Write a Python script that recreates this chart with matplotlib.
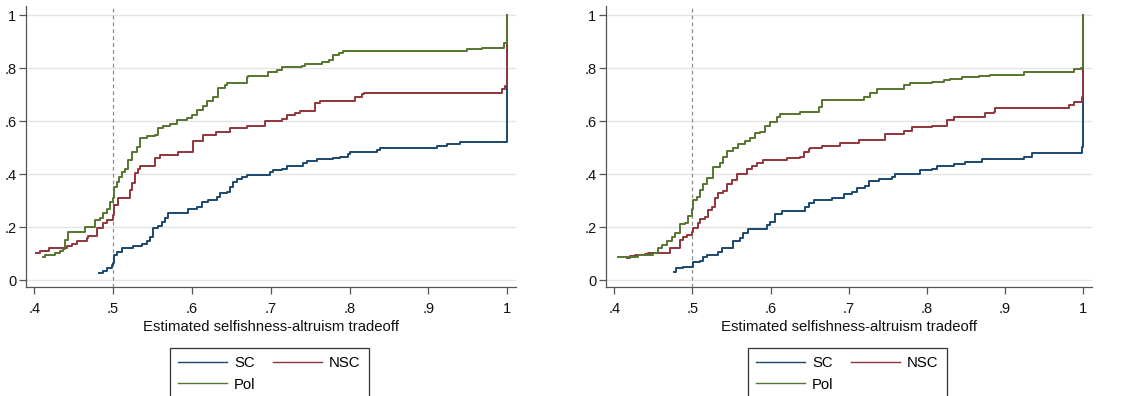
import numpy as np
import matplotlib
matplotlib.use("Agg")
import matplotlib.pyplot as plt

plt.rcParams['font.family'] = ['Liberation Sans', 'DejaVu Sans']

# series names and stata s2color colours
names = ["SC", "NSC", "Pol"]
colors = ["#1a476f", "#90353b", "#55752f"]

# left panel: step points (x, cumulative share after the step)
left_sc_x = [.4825, .4876, .4927, .4983, .5003, .5011, .5045, .5109, .5248, .5363, .5426, .5468,
             .5511, .5574, .5617, .5659, .5701, .5955, .6061, .6124, .6209, .6315, .6357, .6442,
             .6484, .6526, .6569, .6632, .6696, .6992, .7034, .714, .7204, .7415, .7457, .7584,
             .7796, .7881, .7986, .8008, .8346, .8389, .9108, .9235, .9404, 1.0]
left_sc_y = [.028, .035, .044, .057, .063, .094, .107, .120, .130, .138, .148, .164,
             .195, .204, .220, .233, .254, .267, .277, .296, .302, .315, .327, .333,
             .352, .371, .380, .390, .396, .409, .415, .420, .431, .440, .449, .455,
             .459, .465, .475, .482, .490, .499, .507, .512, .522, 1.0]

left_nsc_x = [.4017, .4072, .419, .441, .4474, .4537, .4664, .4686, .4791, .4876, .4918, .5003,
              .5011, .5066, .5215, .5236, .5278, .532, .5342, .5532, .5595, .5828, .6019, .6146,
              .6306, .6484, .6696, .6929, .714, .7204, .7309, .7373, .7563, .7627, .8071, .8156,
              .8177, .993, .997, 1.0]
left_nsc_y = [.101, .111, .121, .128, .138, .148, .157, .167, .195, .214, .226, .245,
              .283, .311, .340, .365, .403, .421, .430, .459, .472, .484, .526, .547,
              .560, .572, .581, .601, .608, .623, .629, .638, .667, .677, .692, .701,
              .704, .720, .732, 1.0]

left_pol_x = [.4106, .4135, .4262, .4326, .4368, .4389, .4432, .4643, .477, .4834, .4876, .4918,
              .4961, .4995, .5011, .5045, .5079, .5109, .5151, .5193, .5236, .5299, .5342, .5426,
              .5532, .5574, .5638, .5722, .5807, .5934, .5997, .6061, .6146, .6188, .6273, .6336,
              .6421, .6442, .6696, .6717, .6971, .7077, .714, .7394, .7436, .7648, .7733, .7796,
              .786, .7923, .9489, .9679, .9954, 1.0]
left_pol_y = [.088, .094, .103, .111, .119, .151, .180, .201, .226, .233, .252, .270,
              .296, .308, .352, .371, .390, .409, .421, .453, .484, .503, .535, .543,
              .547, .572, .581, .589, .604, .610, .623, .642, .657, .677, .692, .723,
              .736, .742, .767, .771, .786, .792, .805, .809, .815, .824, .830, .849,
              .855, .865, .870, .877, .893, 1.0]

# right panel
right_sc_x = [.4764, .479, .4884, .5012, .5097, .514, .5183, .5332, .5375, .5524, .561, .5652,
              .5716, .5951, .5994, .6058, .6143, .6442, .6485, .6549, .6784, .6933, .704, .7104,
              .7211, .7254, .7382, .7553, .7595, .7915, .8065, .8129, .8342, .8492, .8705, .9239,
              .9346, .998, 1.0]
right_sc_y = [.031, .044, .050, .069, .073, .086, .094, .107, .120, .148, .157, .176,
              .191, .208, .220, .248, .262, .277, .289, .302, .311, .325, .331, .346,
              .355, .375, .381, .390, .400, .415, .418, .430, .438, .447, .455, .465,
              .478, .503, 1.0]

right_nsc_x = [.4158, .4201, .4265, .4393, .4436, .4713, .4841, .4884, .4927, .4991, .5012, .5076,
               .5097, .5161, .5204, .5247, .529, .5332, .5396, .5439, .5503, .5567, .5695, .5759,
               .5823, .5909, .6208, .6378, .6421, .6485, .6506, .6656, .6891, .7126, .7467, .7702,
               .7809, .8065, .8257, .8342, .8748, .8855, .8876, .9816, .988, .9987, 1.0]
right_nsc_y = [.082, .091, .094, .098, .103, .123, .151, .164, .170, .182, .197, .214,
               .230, .239, .264, .277, .308, .327, .337, .362, .377, .400, .421, .431,
               .443, .453, .459, .465, .482, .493, .499, .507, .516, .528, .551, .564,
               .576, .581, .604, .616, .629, .635, .648, .660, .673, .692, 1.0]

right_pol_x = [.4051, .4307, .45, .4564, .4606, .467, .4734, .4777, .4841, .4905, .4948, .4991,
               .5012, .5055, .5097, .514, .5183, .5268, .5354, .5396, .5439, .5524, .5588, .5674,
               .5738, .5802, .5866, .593, .5994, .6079, .6122, .6378, .6613, .6656, .719, .7275,
               .736, .7702, .7787, .8065, .8214, .83, .8449, .8663, .8812, .9239, .988, .9965, 1.0]
right_pol_y = [.088, .094, .103, .120, .132, .148, .164, .176, .211, .216, .242, .267,
               .304, .314, .340, .362, .387, .428, .443, .463, .488, .497, .513, .526,
               .535, .556, .560, .581, .597, .616, .625, .635, .654, .679, .692, .707,
               .720, .736, .742, .748, .755, .758, .765, .770, .775, .786, .795, .799, 1.0]

x_ticks = [.4, .5, .6, .7, .8, .9, 1]
x_labels = [".4", ".5", ".6", ".7", ".8", ".9", "1"]
y_ticks = [0, .2, .4, .6, .8, 1]
y_labels = ["0", ".2", ".4", ".6", ".8", "1"]
x_title = "Estimated selfishness-altruism tradeoff"
cutoff = 0.5


def draw_panel(ax, series):
    # light horizontal grid like stata
    for yt in y_ticks:
        ax.axhline(yt, color="#e4e4e4", lw=1.0, zorder=0)
    ax.axvline(cutoff, color="#8c8c8c", lw=0.9, ls=(0, (3, 2.5)), zorder=1)
    lines = []
    for (xs, ys), name, c in zip(series, names, colors):
        l, = ax.plot(xs, ys, drawstyle="steps-post", color=c, lw=1.4, label=name, zorder=2)
        lines.append(l)
    ax.set_xlim(.3894, 1.0112)
    ax.set_ylim(-.026, 1.034)
    ax.set_xticks(x_ticks)
    ax.set_xticklabels(x_labels)
    ax.set_yticks(y_ticks)
    ax.set_yticklabels(y_labels)
    ax.tick_params(direction="out", length=5, width=0.9, color="#555555",
                   labelsize=10.5, labelcolor="#111111")
    ax.tick_params(axis="x", pad=6)
    ax.tick_params(axis="y", pad=2)
    for s in ["top", "right"]:
        ax.spines[s].set_visible(False)
    for s in ["left", "bottom"]:
        ax.spines[s].set_color("#555555")
        ax.spines[s].set_linewidth(0.9)
    ax.set_xlabel(x_title, fontsize=10.7, color="#111111", labelpad=3)
    return lines


fig = plt.figure(figsize=(11.34, 3.96), dpi=100)
ax1 = fig.add_axes([26 / 1134, 109 / 396, 490 / 1134, 281 / 396])
ax2 = fig.add_axes([606 / 1134, 109 / 396, 486 / 1134, 281 / 396])

panels = [
    (ax1, [(left_sc_x, left_sc_y), (left_nsc_x, left_nsc_y), (left_pol_x, left_pol_y)], 170),
    (ax2, [(right_sc_x, right_sc_y), (right_nsc_x, right_nsc_y), (right_pol_x, right_pol_y)], 748),
]
for ax, series, leg_x in panels:
    lines = draw_panel(ax, series)
    # ncol fills column-wise, so reorder to get SC NSC / Pol
    order = [lines[0], lines[2], lines[1]]
    leg = fig.legend(order, [l.get_label() for l in order], ncol=2,
                     loc="upper left", bbox_to_anchor=(leg_x / 1134, 1 - 348 / 396),
                     frameon=True, fancybox=False, edgecolor="black",
                     fontsize=10.7, handlelength=3.3, handletextpad=0.45, columnspacing=1.2,
                     borderpad=0.55, labelspacing=0.5, borderaxespad=0, handleheight=0.7)
    leg.get_frame().set_linewidth(0.9)
    for h in leg.get_lines():
        h.set_linewidth(1.0)

plt.savefig("out.png", dpi=100)
